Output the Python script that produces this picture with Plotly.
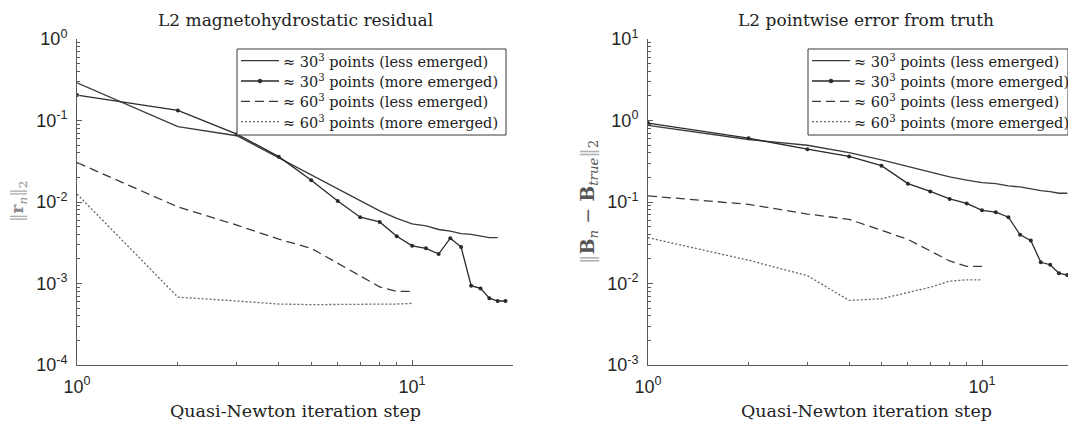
import plotly.graph_objects as go
import math

# ---------------- data ----------------
steps_30_less = list(range(1, 19))
steps_30_more = list(range(1, 20))
steps_60 = list(range(1, 11))

# L2 magnetohydrostatic residual
res_30_less = [0.29, 0.084, 0.065, 0.035, 0.0213, 0.0143, 0.0103, 0.0078, 0.0063,
               0.0054, 0.0051, 0.0046, 0.0044, 0.0041, 0.0040, 0.0038, 0.00365, 0.00365]
res_30_more = [0.205, 0.133, 0.068, 0.036, 0.0185, 0.0103, 0.0065, 0.0057, 0.0038,
               0.0029, 0.0027, 0.0023, 0.0036, 0.0028, 0.00094, 0.00087, 0.00066,
               0.00061, 0.00061]
res_60_less = [0.0305, 0.0087, 0.0052, 0.0035, 0.0027, 0.00177, 0.00124, 0.00091,
               0.0008, 0.0008]
res_60_more = [0.0125, 0.00068, 0.00061, 0.00056, 0.00055, 0.00055, 0.00055,
               0.00056, 0.00056, 0.00057]

# L2 pointwise error from truth
err_30_less = [0.87, 0.585, 0.497, 0.404, 0.328, 0.271, 0.235, 0.204, 0.186, 0.173,
               0.168, 0.158, 0.153, 0.144, 0.138, 0.134, 0.128, 0.128]
err_30_more = [0.93, 0.606, 0.445, 0.362, 0.279, 0.168, 0.135, 0.109, 0.096, 0.079,
               0.075, 0.065, 0.0396, 0.0337, 0.0182, 0.017, 0.0134, 0.0127, 0.0127]
err_60_less = [0.119, 0.0935, 0.0712, 0.0612, 0.045, 0.0347, 0.0251, 0.0189,
               0.0162, 0.0162]
err_60_more = [0.0365, 0.0193, 0.0125, 0.0062, 0.0065, 0.0078, 0.009, 0.0107,
               0.0111, 0.0111]

series_names = [
    "≈ 30<sup>3</sup> points (less emerged)",
    "≈ 30<sup>3</sup> points (more emerged)",
    "≈ 60<sup>3</sup> points (less emerged)",
    "≈ 60<sup>3</sup> points (more emerged)",
]

titles = ["L2 magnetohydrostatic residual", "L2 pointwise error from truth"]
x_title = "Quasi-Newton iteration step"
y_title_left = ('<span style="color:#b0b0b0">‖</span><b>r</b><sub><i>n</i></sub>'
                '<span style="color:#b0b0b0">‖</span><sub>2</sub>')
y_title_right = ('<span style="color:#b0b0b0">‖</span><b>B</b><sub><i>n</i></sub> − '
                 '<b>B</b><sub><i>true</i></sub><span style="color:#b0b0b0">‖</span><sub>2</sub>')

x_tickvals = [1, 10]
x_ticktext = ["10<sup>0</sup>", "10<sup>1</sup>"]
yl_tickvals = [1e-4, 1e-3, 1e-2, 1e-1, 1]
yl_ticktext = ["10<sup>-4</sup>", "10<sup>-3</sup>", "10<sup>-2</sup>", "10<sup>-1</sup>", "10<sup>0</sup>"]
yr_tickvals = [1e-3, 1e-2, 1e-1, 1, 10]
yr_ticktext = ["10<sup>-3</sup>", "10<sup>-2</sup>", "10<sup>-1</sup>", "10<sup>0</sup>", "10<sup>1</sup>"]

# ---------------- styling ----------------
SERIF = "DejaVu Serif"
SANS = "Liberation Sans"
LINE_C = "#3a3a3a"
AXIS_C = "#5a5a5a"

# the page body has an 8px margin: the figure is drawn 8px right/down of the window corner
OFF = 8
WIN_W, WIN_H = 1076, 426
W, H = WIN_W - OFF, WIN_H - OFF

# plot-area edges in window pixels
AX_L, AX_T, AX_B = 77, 39, 365
ML = AX_L - OFF
MT = AX_T - OFF
MB = H - (AX_B - OFF)
MR = 0
PW = W - ML - MR
PH = H - MT - MB


def px_x(px):  # window pixel -> paper
    return (px - OFF - ML) / PW


def px_y(py):
    return 1 - (py - OFF - MT) / PH


fig = go.Figure()

styles = [
    dict(dash="solid", marker=False, color=LINE_C),
    dict(dash="solid", marker=True, color="#2a2a2a"),
    dict(dash="9px,5px", marker=False, color=LINE_C),
    dict(dash="2px,2px", marker=False, color="#666666"),
]

panels = [
    ("x", "y", [(steps_30_less, res_30_less), (steps_30_more, res_30_more),
                (steps_60, res_60_less), (steps_60, res_60_more)]),
    ("x2", "y2", [(steps_30_less, err_30_less), (steps_30_more, err_30_more),
                  (steps_60, err_60_less), (steps_60, err_60_more)]),
]

for xa, ya, data in panels:
    for (xs, ys), st, nm in zip(data, styles, series_names):
        fig.add_trace(go.Scatter(
            x=xs, y=ys, name=nm, xaxis=xa, yaxis=ya, showlegend=False,
            mode="lines+markers" if st["marker"] else "lines",
            line=dict(color=st["color"], width=1.3, dash=st["dash"]),
            marker=dict(size=4, color=st["color"]),
            hoverinfo="skip",
        ))

minor_x = [m * 10 ** k for k in range(0, 2) for m in range(2, 10)]
minor_yl = [m * 10 ** k for k in range(-4, 0) for m in range(2, 10)]
minor_yr = [m * 10 ** k for k in range(-3, 1) for m in range(2, 10)]

TICKFONT = dict(family=SANS, size=18, color="#262626")


def xaxis(domain, rng):
    return dict(type="log", domain=domain, range=rng, showline=True, linecolor=AXIS_C,
                linewidth=1, ticks="inside", ticklen=5, tickcolor=AXIS_C,
                tickvals=x_tickvals, ticktext=x_ticktext, showgrid=False, zeroline=False,
                tickfont=TICKFONT,
                minor=dict(tickmode="array", tickvals=minor_x, ticks="inside", ticklen=3,
                           tickcolor=AXIS_C, showgrid=False),
                ticklabelstandoff=5)


def yaxis(anchor, rng, tv, tt, minor):
    return dict(type="log", domain=[0, 1], range=rng, anchor=anchor, showline=True,
                linecolor=AXIS_C, linewidth=1, ticks="inside", ticklen=5, tickcolor=AXIS_C,
                tickvals=tv, ticktext=tt, showgrid=False, zeroline=False,
                tickfont=TICKFONT, ticklabelstandoff=5,
                minor=dict(tickmode="array", tickvals=minor, ticks="inside", ticklen=3,
                           tickcolor=AXIS_C, showgrid=False))


DECADE = 334.0
left_end = px_x(513)
right_start = px_x(648)
right_range_max = (WIN_W - 648) / DECADE

fig.update_layout(
    width=W, height=H, margin=dict(l=ML, r=MR, t=MT, b=MB, pad=0),
    paper_bgcolor="white", plot_bgcolor="white", showlegend=False,
    xaxis=xaxis([0, left_end], [0, math.log10(20)]) | dict(anchor="y"),
    xaxis2=xaxis([right_start, 1], [0, right_range_max]) | dict(anchor="y2"),
    yaxis=yaxis("x", [-4, 0], yl_tickvals, yl_ticktext, minor_yl),
    yaxis2=yaxis("x2", [-3, 1], yr_tickvals, yr_ticktext, minor_yr),
)

ann = []
shapes = []

# ----- legends (drawn as boxes, sample lines and texts) -----
legend_boxes = [(237, 506), (808, 1068)]
LEG_TOP, LEG_BOT = 49, 135
ROW0, ROW_DY = 60.7, 20.3
for (bx0, bx1) in legend_boxes:
    shapes.append(dict(type="rect", xref="paper", yref="paper",
                       x0=px_x(bx0), x1=px_x(bx1), y0=px_y(LEG_BOT), y1=px_y(LEG_TOP),
                       line=dict(color="#3a3a3a", width=1), fillcolor="white", layer="above"))
    for i, (st, nm) in enumerate(zip(styles, series_names)):
        ry = ROW0 + ROW_DY * i
        shapes.append(dict(type="line", xref="paper", yref="paper",
                           x0=px_x(bx0 + 4), x1=px_x(bx0 + 42), y0=px_y(ry), y1=px_y(ry),
                           line=dict(color=st["color"], width=1.3, dash=st["dash"]),
                           layer="above"))
        if st["marker"]:
            shapes.append(dict(type="circle", xref="paper", yref="paper",
                               xsizemode="pixel", ysizemode="pixel",
                               xanchor=px_x(bx0 + 23), yanchor=px_y(ry),
                               x0=-2, x1=2, y0=-2, y1=2,
                               line=dict(color=st["color"], width=0.5),
                               fillcolor=st["color"], layer="above"))
        ann.append(dict(text=nm, x=px_x(bx0 + 44), y=px_y(ry), xref="paper", yref="paper",
                        xanchor="left", yanchor="middle", showarrow=False,
                        font=dict(family=SERIF, size=14.5, color="#222")))

centers = [(77 + 513) / 2, (648 + 1084) / 2]
for t, cx in zip(titles, centers):
    ann.append(dict(text=t, x=px_x(cx), y=1, xref="paper", yref="paper",
                    xanchor="center", yanchor="bottom", yshift=7, showarrow=False,
                    font=dict(family=SERIF, size=17, color="#222")))
    ann.append(dict(text=x_title, x=px_x(cx), y=0, xref="paper", yref="paper",
                    xanchor="center", yanchor="middle", yshift=-46, showarrow=False,
                    font=dict(family=SERIF, size=17.5, color="#222")))
ann.append(dict(text=y_title_left, x=px_x(18), y=0.5, xref="paper", yref="paper",
                xanchor="center", yanchor="middle", textangle=-90, showarrow=False,
                font=dict(family=SERIF, size=17, color="#8a8a8a")))
ann.append(dict(text=y_title_right, x=px_x(588), y=0.5, xref="paper", yref="paper",
                xanchor="center", yanchor="middle", textangle=-90, showarrow=False,
                font=dict(family=SERIF, size=19, color="#555")))
fig.update_layout(annotations=ann, shapes=shapes)

fig.write_html("out.html")
